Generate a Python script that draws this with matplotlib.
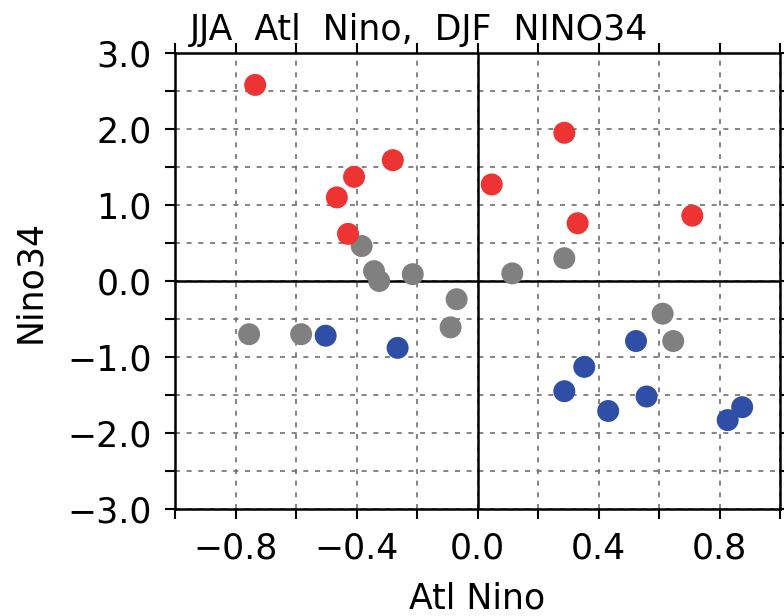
import numpy as np
import matplotlib
matplotlib.use('Agg')
from matplotlib import pyplot as plt
from matplotlib.ticker import MultipleLocator, FuncFormatter

# warm years (red), neutral (gray), cold (blue): JJA Atl Nino vs DJF NINO34
red_x = [-0.735, -0.408, -0.465, -0.428, -0.280, 0.047, 0.287, 0.331, 0.710]
red_y = [2.58, 1.37, 1.10, 0.62, 1.59, 1.27, 1.95, 0.76, 0.86]

gray_x = [-0.383, -0.342, -0.325, -0.214, -0.069, -0.089, 0.115, 0.287, 0.612, 0.647, -0.755, -0.583]
gray_y = [0.46, 0.13, 0.00, 0.09, -0.24, -0.61, 0.10, 0.30, -0.43, -0.79, -0.70, -0.70]

blue_x = [-0.502, -0.264, 0.524, 0.353, 0.287, 0.432, 0.559, 0.827, 0.875]
blue_y = [-0.72, -0.88, -0.79, -1.13, -1.45, -1.71, -1.52, -1.83, -1.66]

xlabels = [-0.8, -0.4, 0.0, 0.4, 0.8]
ylabels = [-3.0, -2.0, -1.0, 0.0, 1.0, 2.0, 3.0]

plt.rcParams['font.family'] = ['DejaVu Sans']
fs = 25

fig = plt.figure(figsize=(7.84, 6.16), dpi=100)
ax = fig.add_axes([175/784, 1-509/616, 605/784, 456/616])

ax.scatter(gray_x, gray_y, s=250, color='#808080', edgecolors='none', zorder=3)
ax.scatter(red_x, red_y, s=250, color='#EE3333', edgecolors='none', zorder=3)
ax.scatter(blue_x, blue_y, s=250, color='#2F4FA6', edgecolors='none', zorder=3)

ax.axhline(0, color='black', lw=1.8, zorder=2)
ax.axvline(0, color='black', lw=1.8, zorder=2)

ax.set_xlim(-1.0, 1.0)
ax.set_ylim(-3.0, 3.0)

ax.xaxis.set_major_locator(MultipleLocator(0.2))
ax.yaxis.set_major_locator(MultipleLocator(0.5))
ax.grid(True, ls=(0, (3, 4)), color='#707070', lw=1.2)

def xfmt(v, pos):
    return ('%.1f' % v).replace('-', '\u2212') if any(abs(v - t) < 1e-6 for t in xlabels) else ''

def yfmt(v, pos):
    return ('%.1f' % v).replace('-', '\u2212') if any(abs(v - t) < 1e-6 for t in ylabels) else ''

ax.xaxis.set_major_formatter(FuncFormatter(xfmt))
ax.yaxis.set_major_formatter(FuncFormatter(yfmt))

ax.tick_params(direction='out', length=7, width=1.5, labelsize=fs,
               top=True, right=True, pad=10)
ax.tick_params(axis='x', pad=9)
for sp in ax.spines.values():
    sp.set_linewidth(1.8)

ax.set_xlabel('Atl Nino', fontsize=fs, labelpad=12)
ax.set_ylabel('Nino34', fontsize=fs, labelpad=14)
fig.text(190/784, 1-40/616, 'JJA  Atl  Nino,  DJF  NINO34', fontsize=fs,
         ha='left', va='baseline')

fig.savefig('out.png', dpi=100)
